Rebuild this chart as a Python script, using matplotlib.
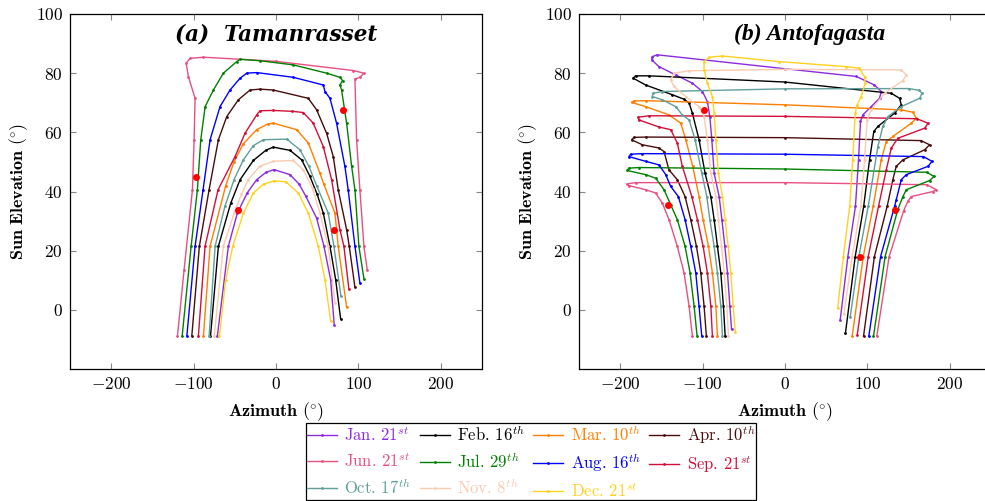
import matplotlib
matplotlib.use("Agg")
import matplotlib.pyplot as plt

plt.rcParams['font.family'] = 'serif'
plt.rcParams['font.serif'] = ['cmr10']
plt.rcParams['mathtext.fontset'] = 'cm'
plt.rcParams['axes.formatter.use_mathtext'] = True
plt.rcParams['axes.unicode_minus'] = True

# ---- legend labels / colours (one entry per day) ----
labels = [r'Jan. $21^{st}$', r'Feb. $16^{th}$', r'Mar. $10^{th}$', r'Apr. $10^{th}$',
          r'Jun. $21^{st}$', r'Jul. $29^{th}$', r'Aug. $16^{th}$', r'Sep. $21^{st}$',
          r'Oct. $17^{th}$', r'Nov. $8^{th}$', r'Dec. $21^{st}$']
colors = ['#8A2BE2', '#000000', '#FF7F00', '#4A0D0D',
          '#E8507F', '#008000', '#0000FF', '#D0103A',
          '#5F9E9A', '#F9CBB0', '#FFD21F']

# ---- (a) Tamanrasset : azimuth / elevation ----
tam_jan_az = [-71.2, -57.8, -46.9, -35, -23.4, -12, -2.4, 17, 28, 36, 49.3, 58.2, 66.3, 70.7]
tam_jan_el = [-8.9, 21.5, 32.7, 39.5, 44, 46.5, 47.4, 45.7, 42.5, 38.5, 31, 21.5, 10.2, -5.2]
tam_feb_az = [-79.5, -69.9, -55, -43.6, -27.5, -12, -3.3, 17, 31.2, 41.2, 50, 57.4, 65.5, 72.4, 78.4]
tam_feb_el = [-8.9, 21.5, 36, 44, 50.5, 54, 55, 53.9, 50.7, 45.1, 39, 32.7, 21.5, 10.2, -3]
tam_mar_az = [-88.1, -80, -61, -51, -40, -23.4, -10, -3.3, 25.1, 39.2, 53.3, 58, 71.5, 75.5, 85.7]
tam_mar_el = [-8.9, 21.5, 42, 50, 56, 60.9, 62.8, 63.1, 60.9, 56.4, 46.2, 42.5, 32.7, 21.5, 0.9]
tam_apr_az = [-102.2, -93, -81.2, -69.9, -59.8, -45.7, -31.5, -19.4, -3.3, 39.2, 49.3, 61.4, 69.5, 75.5, 85.7, 88.9, 95.8]
tam_apr_el = [-8.9, 21.5, 40.6, 57.5, 65.3, 71, 74.3, 74.6, 74.3, 71.5, 67.6, 59.7, 51.8, 40.6, 27.1, 21.5, 7.6]
tam_jun_az = [-119.6, -111.5, -101.4, -99.4, -98.2, -106.3, -109.1, -104.2, -88.1, 0, 93.7, 106.7, 101.8, 95.8, 97.8, 101.8, 106.7, 110.7]
tam_jun_el = [-8.9, 13.6, 40.6, 57.5, 71.5, 78.8, 83.4, 85, 85.4, 84.0, 80.9, 80, 78.6, 78, 57.5, 40.6, 21.5, 13.6]
tam_jul_az = [-113.9, -103, -95.4, -91.3, -86, -76, -63.9, -47.7, -43.6, -19.4, 21, 61.4, 77.6, 80.8, 77.6, 79.6, 85.7, 91.8, 95.8, 100.6, 106.7]
tam_jul_el = [-8.9, 21.5, 40.6, 57.5, 68.7, 74.3, 80, 83.9, 84.7, 84.2, 82.8, 80, 78.6, 77.5, 76, 74.3, 63.1, 48.5, 40.6, 21.5, 10.5]
tam_aug_az = [-108.2, -98.2, -88.5, -80, -67.9, -55.8, -43.6, -35.5, -23.4, 21, 57.4, 59.4, 65.5, 73.5, 83.6, 87.6, 95.8, 101.8]
tam_aug_el = [-8.9, 21.5, 40.6, 57.5, 68.7, 74.3, 78.3, 80, 80.2, 78.6, 76, 73.8, 71.5, 63.1, 48.5, 40.6, 21.5, 9.1]
tam_sep_az = [-94.2, -86.1, -70.3, -49.7, -37.6, -23.4, -19.4, -3.3, 20, 33.1, 45.2, 57.4, 67.5, 77.6, 82.4, 88.5]
tam_sep_el = [-8.9, 21.5, 40.6, 51.8, 59.7, 65.9, 67.3, 67.4, 67.1, 66.7, 63.1, 55.2, 44, 27.1, 21.5, 6.9]
tam_oct_az = [-81.2, -73.9, -62, -50.9, -40, -27.5, -15.4, 13, 29.1, 40, 49.3, 63.4, 70.3, 78.8]
tam_oct_el = [-8.9, 21.5, 35, 44, 50.5, 55.5, 57.5, 57.7, 54.1, 48.5, 42, 32.7, 21.5, 4.6]
tam_nov_az = [-75, -63.9, -50.9, -42, -33.6, -20, -3.3, 21, 33.1, 44.4, 53.3, 63.4, 71.5]
tam_nov_el = [-8.9, 21.5, 32.7, 39, 44, 48.5, 50.2, 50.5, 47.3, 41, 32.7, 21.5, 2.4]
tam_dec_az = [-68.7, -61, -52.5, -39.6, -27.5, -15, -2.4, 12, 27, 39.2, 51.3, 59.4, 66.3]
tam_dec_el = [-8.9, 10.2, 21.5, 32.7, 39.5, 42.5, 43.6, 43.3, 39.5, 32.7, 21.5, 10.2, -3.8]
tam_dots_az = [-97, -46, 81.2, 70.3]
tam_dots_el = [44.8, 33.6, 67.4, 27]

# ---- (b) Antofagasta ----
ant_jan_az = [-64.9, -66.9, -69.8, -73, -76.6, -79.9, -86, -88.8, -91.2, -94.2, -100.2, -112.4, -132.6, -152.9, -161.8, -161.1, -155, 0, 86.4, 108.6, 116.8, 114.7, 104.6, 94.4, 91.6, 89.2, 85.5, 76.3, 66.9]
ant_jan_el = [-6.6, 1.2, 12.5, 21.5, 30.5, 38.3, 46.2, 57.5, 65.3, 70.4, 73.8, 76.6, 79.4, 82.2, 84.5, 85.6, 86.2, 81.5, 78.9, 76, 73.8, 71.5, 68.7, 65.9, 63.7, 50.7, 35, 18, -3.6]
ant_feb_az = [-72.6, -74.7, -77.9, -82, -86, -90, -97, -104.3, -112.4, -116.4, -122.5, -136.7, -169.1, -184.2, -181.3, -165.1, 0, 129, 139, 141.1, 133, 112.7, 107.8, 102.6, 95.5, 85.2, 73.4]
ant_feb_el = [-8.9, 1.2, 12.5, 21.5, 30.5, 38.3, 46.2, 57.5, 66.5, 69.9, 71.2, 72.7, 76, 78.3, 79.1, 79.1, 77, 73.2, 71.5, 69.3, 66.5, 62, 60.3, 50.7, 35, 18, -7.8]
ant_mar_az = [-82, -83.9, -88.1, -92.9, -99.4, -104.3, -112, -120.4, -126.5, -140.8, -169.1, -186.1, -183.3, -169.1, 0, 141.1, 155, 159.4, 153.3, 130.9, 122.9, 116.8, 107, 95, 81.5]
ant_mar_el = [-8.9, 1.2, 12.5, 21.5, 30.5, 38.3, 48.5, 57.5, 63.1, 65.9, 68.7, 70.1, 70.6, 70.7, 69.3, 67.6, 66.8, 64.8, 63.1, 58.6, 56.9, 50.7, 35, 18, -8.9]
ant_apr_az = [-95.4, -98.2, -102.2, -107.5, -114.4, -121.3, -130.7, -140.8, -146.8, -152.9, -173.2, -186.1, -183.3, -169.1, 0, 165, 175.5, 169.5, 143.1, 135, 130.9, 124, 108.5, 95.3]
ant_apr_el = [-8.9, 1.2, 12.5, 21.5, 30.5, 38.3, 44, 47.3, 53.5, 54.7, 55.8, 57.5, 58.3, 58.4, 58.2, 57.2, 55.8, 54.1, 50.7, 48.5, 44, 35, 18, -8.9]
ant_jun_az = [-112.4, -116.4, -122.5, -130.7, -140.8, -148.9, -157, -169.1, -189.4, -191.5, -181.3, 0, 172, 183.7, 179.6, 153.3, 149.2, 144, 126.4, 111.4]
ant_jun_el = [-8.9, 1.2, 12.5, 21.5, 30.5, 36.1, 39.5, 40.6, 42, 42.6, 43, 43, 42.3, 40.6, 40, 38.3, 36.7, 33.5, 18, -8.9]
ant_jul_az = [-106.7, -110.3, -115.2, -121.3, -130.7, -138.7, -146.8, -157, -169.1, -191.5, -189.4, -177.3, 0, 172, 180.8, 175.5, 147.2, 143.1, 137, 121.5, 107.4]
ant_jul_el = [-8.9, 1.2, 12.5, 21.5, 30.5, 35.5, 40.6, 44.5, 45.7, 47.1, 47.9, 48.1, 47.6, 46.5, 45.1, 43.7, 40.6, 38.3, 34, 18, -8.9]
ant_aug_az = [-101, -104.3, -108.3, -114.4, -121.3, -129.4, -138.7, -144.8, -152.9, -169.1, -189.4, -187.3, -173.2, 0, 168, 178.4, 173.5, 147.2, 141.1, 135, 133, 116, 101.7]
ant_aug_el = [-8.9, 1.2, 12.5, 21.5, 30.5, 38.3, 41.7, 45.7, 49, 50.2, 51.8, 52.6, 52.8, 52.6, 51.8, 50.2, 48.5, 45.7, 44, 37.2, 35, 18, -8.9]
ant_sep_az = [-88.1, -90, -94.2, -99.4, -106.3, -113.1, -124.6, -130.7, -138.7, -152.9, -177.3, -178.1, -165.1, 0, 160, 173.5, 169.5, 137, 129, 122.9, 113.5, 101, 87.6]
ant_sep_el = [-8.9, 1.2, 12.5, 21.5, 30.5, 38.3, 48.5, 56.4, 60.9, 61.8, 64.2, 65.1, 65.6, 65.4, 64.6, 63.1, 61.4, 58, 54.7, 47.3, 35, 18, -8.6]
ant_oct_az = [-75.9, -77.9, -82, -86, -91.2, -94.9, -101, -109.1, -116.4, -124.6, -132.6, -148.9, -161.1, -160.2, -148.9, 0, 150, 163, 166.2, 163.4, 141.1, 124.8, 118.7, 112.7, 101, 89.6, 79.1]
ant_oct_el = [-8.9, 1.2, 12.5, 21.5, 30.5, 38.3, 46.2, 57.5, 64.2, 65.9, 68.7, 71, 72.1, 73.2, 73.8, 74.7, 74.8, 74.2, 73.2, 71.5, 68.7, 65.3, 62, 55.2, 35, 18, -2.5]
ant_nov_az = [-68.6, -70.6, -73.8, -77.1, -80.8, -83.9, -90, -94.2, -98.2, -104.3, -120.4, -134.7, -138.7, -134.7, -116.4, 0, 141.1, 147.2, 143.1, 120.8, 104.6, 99.8, 96.5, 92, 81.5, 71.5]
ant_nov_el = [-8.9, 1.2, 12.5, 21.5, 30.5, 38.3, 46.2, 57.5, 65.3, 68.7, 72.1, 75.5, 77.7, 80, 80.8, 81.3, 81.1, 79.4, 77.5, 73.2, 67.6, 64.2, 50.7, 35, 18, -1.5]
ant_dec_az = [-60.4, -62.9, -65.7, -69, -72.6, -75.9, -80.8, -83.9, -86, -88.1, -94.2, -98.2, -98.2, -92.1, -75.9, -6.9, 74.2, 90.4, 96.5, 97.3, 92.5, 87.6, 85.2, 82.2, 78.5, 70.8, 64]
ant_dec_el = [-7.5, 1.2, 12.5, 21.5, 30.5, 38.3, 46.2, 57.5, 66.5, 72.1, 76.6, 81.1, 83.9, 85.4, 85.8, 83.9, 82.2, 81.7, 78.8, 76.6, 72.1, 69.3, 66.5, 50.7, 35, 18, 0.7]
ant_dots_az = [-141.5, -98.6, 91.2, 133.8]
ant_dots_el = [35.5, 67.7, 17.8, 33.6]

tam = [(tam_jan_az, tam_jan_el), (tam_feb_az, tam_feb_el), (tam_mar_az, tam_mar_el),
       (tam_apr_az, tam_apr_el), (tam_jun_az, tam_jun_el), (tam_jul_az, tam_jul_el),
       (tam_aug_az, tam_aug_el), (tam_sep_az, tam_sep_el), (tam_oct_az, tam_oct_el),
       (tam_nov_az, tam_nov_el), (tam_dec_az, tam_dec_el)]
ant = [(ant_jan_az, ant_jan_el), (ant_feb_az, ant_feb_el), (ant_mar_az, ant_mar_el),
       (ant_apr_az, ant_apr_el), (ant_jun_az, ant_jun_el), (ant_jul_az, ant_jul_el),
       (ant_aug_az, ant_aug_el), (ant_sep_az, ant_sep_el), (ant_oct_az, ant_oct_el),
       (ant_nov_az, ant_nov_el), (ant_dec_az, ant_dec_el)]

fig = plt.figure(figsize=(9.85, 5.01), dpi=100)
ax1 = fig.add_axes([70 / 985, 132 / 501, 412 / 985, 355 / 501])
ax2 = fig.add_axes([579 / 985, 132 / 501, 412 / 985, 355 / 501])

handles = []
for ax, days, dots_az, dots_el in [(ax1, tam, tam_dots_az, tam_dots_el), (ax2, ant, ant_dots_az, ant_dots_el)]:
    lines = []
    for (az, el), c, lab in zip(days, colors, labels):
        ln, = ax.plot(az, el, color=c, lw=1.0, marker='o', ms=1.0, label=lab)
        lines.append(ln)
    ax.plot(dots_az, dots_el, 'o', color='red', ms=4, zorder=5)
    ax.set_xlim(-250, 250)
    ax.set_ylim(-20, 100)
    ax.set_xticks([-200, -100, 0, 100, 200])
    ax.set_yticks([0, 20, 40, 60, 80, 100])
    ax.tick_params(direction='in', length=4, width=0.8, color='#888888',
                   top=True, right=True, labelsize=12.5, pad=5)
    for s in ax.spines.values():
        s.set_linewidth(0.9)
    ax.set_xlabel(r'$\mathbf{Azimuth}\ (\!^\circ\!)$', fontsize=13, labelpad=6)
    ax.set_ylabel(r'$\mathbf{Sun\ Elevation}\ (\!^\circ\!)$', fontsize=13, labelpad=4)
    handles = lines

ax1.text(0, 93, '(a)  Tamanrasset', ha='center', va='center', fontsize=15.5,
         family='DejaVu Serif', weight='bold', style='italic')
ax2.text(30, 93, '(b) Antofagasta', ha='center', va='center', fontsize=17,
         family='Liberation Serif', weight='bold', style='italic')

# reorder so the 4-column legend reads row by row
order = [0, 4, 8, 1, 5, 9, 2, 6, 10, 3, 7]
leg = fig.legend([handles[i] for i in order], [labels[i] for i in order],
                 loc='upper center', bbox_to_anchor=(531 / 985, 1 - 423 / 501),
                 ncol=4, fontsize=12, frameon=True, fancybox=False,
                 edgecolor='black', framealpha=1, handlelength=1.8,
                 handletextpad=0.45, columnspacing=0.5, labelspacing=0.42,
                 borderpad=0.05, borderaxespad=0)
leg.get_frame().set_linewidth(0.9)
for t, i in zip(leg.get_texts(), order):
    t.set_color(colors[i])

fig.savefig('out.png', dpi=100)
